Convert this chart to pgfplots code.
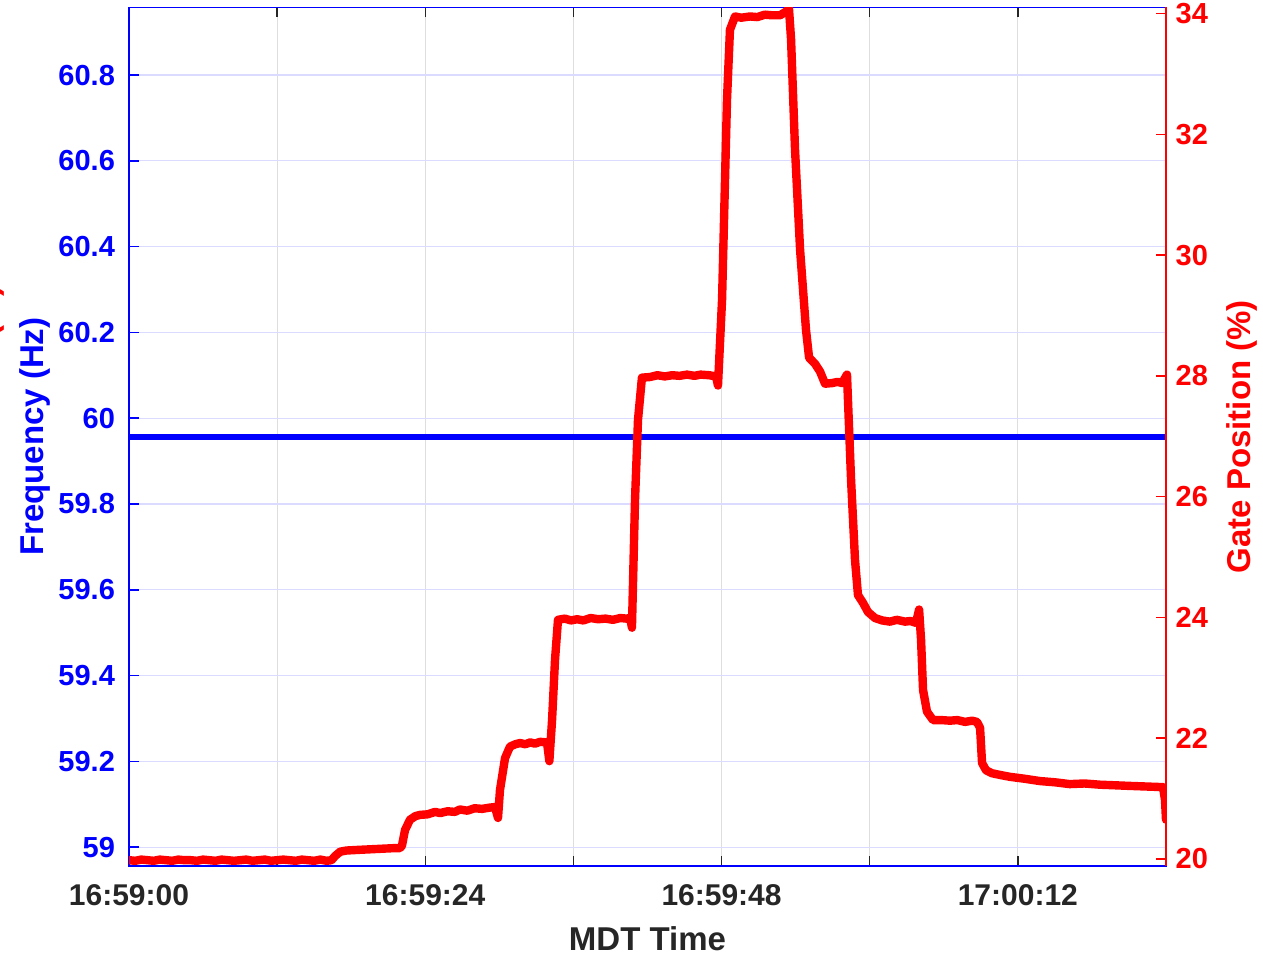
\documentclass[border=0pt]{standalone}
\usepackage{pgfplots}
\pgfplotsset{compat=1.18}
\usepackage{fontspec}
\setmainfont{Liberation Sans}
\definecolor{axgray}{rgb}{0.15,0.15,0.15}
\definecolor{vgrid}{rgb}{0.87,0.87,0.87}
\definecolor{hgrid}{rgb}{0.86,0.86,1}
\pgfplotstableread{
t v
0 19.98
0.5 19.97
1 19.99
1.5 19.98
2 19.97
2.5 19.99
3 19.98
3.5 19.97
4 19.99
4.5 19.98
5 19.98
5.5 19.97
6 19.99
6.5 19.98
7 19.97
7.5 19.99
8 19.98
8.5 19.97
9 19.98
9.5 19.99
10 19.97
10.5 19.98
11 19.99
11.5 19.97
12 19.98
12.5 19.99
13 19.98
13.5 19.97
14 19.99
14.5 19.98
15 19.97
15.5 19.99
16 19.97
16.4 19.98
16.7 20.05
17.1 20.12
17.6 20.14
18.5 20.15
19.5 20.16
20.5 20.17
21.5 20.18
21.95 20.18
22.11 20.22
22.36 20.48
22.76 20.65
23.2 20.71
23.57 20.73
24.2 20.74
24.8 20.78
25.2 20.76
25.8 20.79
26.4 20.78
26.8 20.82
27.4 20.80
28 20.84
28.6 20.83
29.2 20.85
29.65 20.86
29.89 20.68
30.05 21.14
30.46 21.67
30.86 21.86
31.3 21.90
31.67 21.92
32.1 21.90
32.5 21.93
32.89 21.91
33.3 21.94
33.86 21.93
34.05 21.62
34.27 22.30
34.51 23.30
34.75 23.96
35.3 23.98
35.8 23.95
36.3 23.97
36.8 23.95
37.4 23.99
38.0 23.97
38.6 23.98
39.2 23.96
39.8 23.99
40.3 23.98
40.6 23.99
40.74 23.83
40.99 25.95
41.23 27.27
41.55 27.97
42.2 27.98
42.8 28.01
43.4 27.99
44.0 28.01
44.6 28.00
45.2 28.02
45.8 28.00
46.3 28.02
47.0 28.01
47.55 27.99
47.71 27.84
48.04 29.26
48.44 32.57
48.68 33.73
49.09 33.95
49.6 33.93
50.3 33.95
50.9 33.94
51.5 33.98
52.1 33.97
52.73 33.97
53.22 34.03
53.46 34.08
53.63 33.57
53.95 31.75
54.36 30.09
54.84 28.76
55.09 28.30
55.57 28.20
55.98 28.07
56.38 27.87
56.95 27.88
57.4 27.90
57.76 27.88
58.16 28.02
58.24 27.60
58.49 26.28
58.81 24.95
59.05 24.37
59.46 24.24
59.86 24.09
60.43 23.99
61.0 23.95
61.64 23.93
62.2 23.96
62.86 23.93
63.3 23.94
63.75 23.91
64.0 24.13
64.16 23.63
64.32 22.80
64.64 22.44
65.13 22.30
65.8 22.30
66.5 22.29
67.1 22.30
67.72 22.27
68.3 22.29
68.69 22.27
68.94 22.17
69.1 21.59
69.42 21.47
69.9 21.42
70.6 21.39
71.37 21.36
72.5 21.33
73.8 21.29
75.0 21.27
76.2 21.24
77.4 21.25
78.66 21.23
79.9 21.22
81.08 21.21
82.4 21.20
83.76 21.19
83.92 20.98
84 20.65
}\gatedata
\begin{document}
\begin{tikzpicture}
\begin{axis}[
  scale only axis, width=518.5pt, height=429.25pt,
  at={(0,0)}, anchor=south west,
  xmin=0, xmax=84, ymin=58.956, ymax=60.9576,
  xtick={0,12,24,36,48,60,72,84},
  xticklabels={16:59:00,,16:59:24,,16:59:48,,17:00:12,},
  ytick={59,59.2,59.4,59.6,59.8,60,60.2,60.4,60.6,60.8},
  yticklabels={59,59.2,59.4,59.6,59.8,60,60.2,60.4,60.6,60.8},
  tick align=inside, xtick pos=both, ytick pos=left,
  major tick length=5pt,
  axis line style={axgray, line width=0.75pt},
  y axis line style={blue},
  xtick style={axgray, line width=0.75pt},
  ytick style={blue, line width=0.75pt},
  xmajorgrids, ymajorgrids,
  x grid style={vgrid, line width=0.6pt},
  y grid style={hgrid, line width=0.6pt},
  xticklabel style={font=\bfseries\fontsize{15}{17}\selectfont, text=axgray, yshift=-5.5pt},
  yticklabel style={font=\bfseries\fontsize{14.5}{17}\selectfont, text=blue, xshift=-3.5pt},
  xlabel={MDT Time},
  xlabel style={font=\bfseries\fontsize{16.5}{19}\selectfont, text=axgray, at={(axis description cs:0.5,0)}, anchor=north, yshift=-27pt},
  ylabel={Frequency (Hz)},
  ylabel style={font=\bfseries\fontsize{16.5}{19}\selectfont, text=blue, at={(axis description cs:0,0.5)}, anchor=base, yshift=42.7pt},
]
\addplot[blue, line width=3pt] coordinates {(0,59.957) (84,59.957)};
\end{axis}
\begin{axis}[
  scale only axis, width=518.5pt, height=429.25pt,
  at={(0,0)}, anchor=south west,
  xmin=0, xmax=84, ymin=19.884, ymax=34.099,
  axis y line*=right, axis x line=none,
  ytick={20,22,24,26,28,30,32,34},
  tick align=inside, major tick length=5pt,
  y axis line style={red, line width=0.75pt},
  ytick style={red, line width=0.75pt},
  yticklabel style={font=\bfseries\fontsize{14.5}{17}\selectfont, text=red, xshift=1.3pt},
  /pgf/number format/assume math mode=true,
  ylabel={Gate Position (\%)},
  ylabel style={font=\bfseries\fontsize{16.5}{19}\selectfont, text=red, at={(axis description cs:1,0.5)}, anchor=base, yshift=-42.3pt},
]
\addplot[red, line width=4.2pt, line join=round, line cap=round] table[x=t, y=v] {\gatedata};
\end{axis}
\node[overlay, red, rotate=90, anchor=base, inner sep=0pt, font=\bfseries\fontsize{16.5}{19}\selectfont] at (-65.5pt,222pt) {Gate Position (\%)};
\pgfresetboundingbox
\useasboundingbox (-64.5pt,-45pt) rectangle (567pt,433pt);
\end{tikzpicture}
\end{document}
